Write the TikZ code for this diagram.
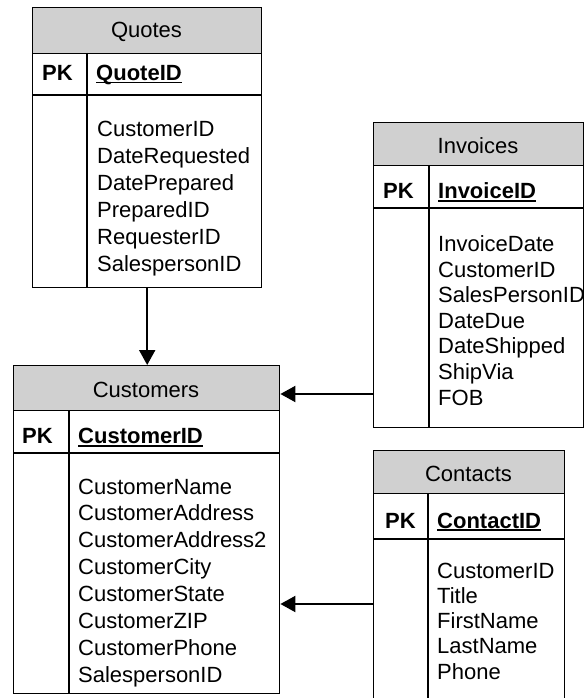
\documentclass[tikz,border=0pt]{standalone}
\usepackage{fontspec}
\setmainfont{Liberation Sans}
\usetikzlibrary{arrows.meta}

\definecolor{hdrgray}{HTML}{D0D0D0}

% bold key field with a heavy underline
\newcommand\keyfield[1]{\setbox0\hbox{\bfseries #1}\rlap{\rule[-3pt]{\wd0}{1.8pt}}\box0}

\tikzset{
  tablebox/.style={draw, line width=1.4pt, inner sep=0pt, anchor=north west},
  headbox/.style={draw, line width=1.4pt, fill=hdrgray, inner sep=0pt, anchor=north west},
  rule/.style={line width=1.4pt},
  txt/.style={inner sep=0pt, font=\fontsize{22}{26}\selectfont},
  titletext/.style={txt, anchor=base},
  pktext/.style={txt, anchor=base west, font=\fontsize{22}{26}\selectfont\bfseries},
  fieldtext/.style={txt, anchor=base west},
  relation/.style={line width=2pt, -{Triangle[length=15pt, width=16pt]}}
}

\begin{document}
\begin{tikzpicture}[x=1pt, y=-1pt]
\useasboundingbox (0,0) rectangle (584,698);

% ---------- Quotes ----------
\node[tablebox, minimum width=229pt, minimum height=280pt] (quotes) at (32,7) {};
\node[headbox, minimum width=229pt, minimum height=46pt] (quotesHead) at (32,7) {};
\draw[rule] (32,95) -- (261,95);
\draw[rule] (87,53) -- (87,287);
\node[titletext] (quotesTitle) at (146.5,37.5) {Quotes};
\node[pktext] (quotesPK) at (42,80.5) {PK};
\node[fieldtext] (quotesKey) at (96,80.5) {\keyfield{QuoteID}};
\foreach \f [count=\i from 0] in {CustomerID,DateRequested,DatePrepared,PreparedID,RequesterID,SalespersonID}
  \node[fieldtext] (quotesField\i) at (97,136+27*\i) {\f};

% ---------- Invoices ----------
\node[tablebox, minimum width=210pt, minimum height=305pt] (invoices) at (373,122) {};
\node[headbox, minimum width=210pt, minimum height=43pt] (invoicesHead) at (373,122) {};
\draw[rule] (373,208) -- (583,208);
\draw[rule] (429,165) -- (429,427);
\node[titletext] (invoicesTitle) at (478,153) {Invoices};
\node[pktext] (invoicesPK) at (383,198.5) {PK};
\node[fieldtext] (invoicesKey) at (438,198.5) {\keyfield{InvoiceID}};
\foreach \f [count=\i from 0] in {InvoiceDate,CustomerID,SalesPersonID,DateDue,DateShipped,ShipVia,FOB}
  \node[fieldtext] (invoicesField\i) at (438,251.7+25.55*\i) {\f};

% ---------- Customers ----------
\node[tablebox, minimum width=266pt, minimum height=328pt] (customers) at (13,365) {};
\node[headbox, minimum width=266pt, minimum height=45pt] (customersHead) at (13,365) {};
\draw[rule] (13,453) -- (279,453);
\draw[rule] (69,410) -- (69,693);
\node[titletext] (customersTitle) at (146,397.5) {Customers};
\node[pktext] (customersPK) at (22,443.5) {PK};
\node[fieldtext] (customersKey) at (78,443.5) {\keyfield{CustomerID}};
\foreach \f [count=\i from 0] in {CustomerName,CustomerAddress,CustomerAddress2,CustomerCity,CustomerState,CustomerZIP,CustomerPhone,SalespersonID}
  \node[fieldtext] (customersField\i) at (78,494+26.9*\i) {\f};

% ---------- Contacts (runs past the lower edge) ----------
\node[tablebox, minimum width=191pt, minimum height=260pt] (contacts) at (373,450) {};
\node[headbox, minimum width=191pt, minimum height=43pt] (contactsHead) at (373,450) {};
\draw[rule] (373,539) -- (564,539);
\draw[rule] (428,493) -- (428,710);
\node[titletext] (contactsTitle) at (468.5,481) {Contacts};
\node[pktext] (contactsPK) at (385,528) {PK};
\node[fieldtext] (contactsKey) at (437,528) {\keyfield{ContactID}};
\foreach \f [count=\i from 0] in {CustomerID,Title,FirstName,LastName,Phone}
  \node[fieldtext] (contactsField\i) at (437,578+25.25*\i) {\f};

% ---------- relationships ----------
\coordinate (invoicesLink) at (373,394);
\coordinate (contactsLink) at (373,604);
\draw[relation] (quotes.south) -- (quotes.south |- customers.north);
\draw[relation] (invoicesLink) -- (invoicesLink -| customers.east);
\draw[relation] (contactsLink) -- (contactsLink -| customers.east);
\end{tikzpicture}
\end{document}
